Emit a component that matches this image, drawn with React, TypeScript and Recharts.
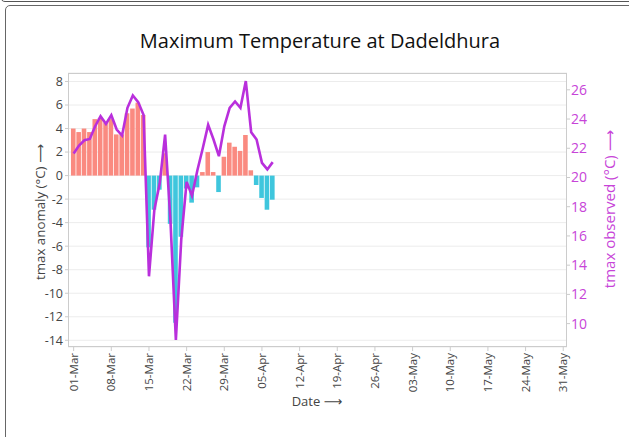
import React from 'react';
import { ComposedChart, Bar, Line, XAxis, YAxis, CartesianGrid, Cell } from 'recharts';

// Day index 0 = 01-Mar
const anomaly = [
  4.0, 3.7, 4.0, 3.7, 4.8, 4.9, 4.5, 4.8, 3.5, 3.5,
  5.3, 5.7, 6.2, 5.15, -6.1, -2.9, -1.2, 1.9, -4.1, -12.5,
  -5.2, -1.1, -2.3, -1.0, 0.3, 2.0, 0.3, -1.4, 1.6, 2.8,
  2.45, 2.1, 3.45, 0.45, -0.8, -1.9, -2.9, -2.05,
];
const observed = [
  21.64, 22.19, 22.55, 22.64, 23.51, 24.19, 23.67, 24.26, 23.28, 22.87,
  24.77, 25.61, 25.16, 24.27, 13.24, 17.8, 19.6, 22.94, 17.0, 8.88,
  15.75, 19.7, 18.75, 20.5, 22.0, 23.6, 22.6, 21.46, 23.5, 24.77,
  25.2, 24.77, 26.6, 23.1, 22.6, 21.0, 20.55, 21.05,
];
const xTickDays = [0, 7, 14, 21, 28, 35, 42, 49, 56, 63, 70, 77, 84, 91];
const xTickLabels = [
  '01-Mar', '08-Mar', '15-Mar', '22-Mar', '29-Mar', '05-Apr', '12-Apr',
  '19-Apr', '26-Apr', '03-May', '10-May', '17-May', '24-May', '31-May',
];
const leftTicks = [-14, -12, -10, -8, -6, -4, -2, 0, 2, 4, 6, 8];
const rightTicks = [10, 12, 14, 16, 18, 20, 22, 24, 26];

const data = anomaly.map((a, i) => ({ day: i, anomaly: a, observed: observed[i] }));

const FONT = '"Open Sans", "DejaVu Sans", sans-serif';
const POS = '#fa8a80';
const NEG = '#3fc6dd';
const LINE = '#b92fdc';
const MAG = '#c744d8';

const XTick = (props: any) => {
  const { x, y, payload } = props;
  const idx = xTickDays.indexOf(payload.value);
  const label = idx >= 0 ? xTickLabels[idx] : '';
  return (
    <text
      x={x}
      y={y}
      transform={`rotate(-90, ${x}, ${y})`}
      textAnchor="end"
      dy="0.35em"
      fill="#444"
      fontSize={11.5}
      fontFamily={FONT}
    >
      {label}
    </text>
  );
};

export default function App() {
  return (
    <div style={{ position: 'absolute', left: 0, top: 0, width: 629, height: 437, overflow: 'hidden', background: '#fff' }}>
      <div style={{ position: 'absolute', left: 0, top: -30, width: 700, height: 32, border: '1px solid #555', borderRadius: 5, boxSizing: 'border-box' }} />
      <div style={{ position: 'absolute', left: 5, top: 5, width: 700, height: 500, border: '1px solid #666', borderRadius: 5, boxSizing: 'border-box' }} />
      <div style={{ position: 'absolute', left: 0, top: 0 }}>
        <ComposedChart width={629} height={437} data={data} margin={{ top: 73, right: 0, bottom: 0, left: 0 }}>
          <CartesianGrid yAxisId="left" vertical={false} stroke="#ececec" />
          <XAxis
            dataKey="day"
            type="number"
            domain={[-1.05, 91.7]}
            ticks={xTickDays}
            interval={0}
            allowDataOverflow
            height={90}
            tickSize={4}
            tickMargin={2}
            axisLine={false}
            tickLine={{ stroke: '#ccc' }}
            tick={<XTick />}
          />
          <YAxis
            yAxisId="left"
            orientation="left"
            width={68}
            domain={[-14.57, 8.72]}
            ticks={leftTicks}
            interval={0}
            allowDataOverflow
            tickSize={3}
            tickMargin={2}
            axisLine={false}
            tickLine={{ stroke: '#ccc' }}
            tick={{ fill: '#444', fontSize: 12.5, fontFamily: FONT }}
          />
          <YAxis
            yAxisId="right"
            orientation="right"
            width={62}
            domain={[8.4, 27.15]}
            ticks={rightTicks}
            interval={0}
            allowDataOverflow
            tickSize={3}
            tickMargin={1}
            axisLine={false}
            tickLine={{ stroke: '#ccc' }}
            tick={{ fill: MAG, fontSize: 14, fontFamily: FONT }}
          />
          <Bar dataKey="anomaly" yAxisId="left" barSize={4.6} isAnimationActive={false}>
            {data.map((d, i) => (
              <Cell key={i} fill={d.anomaly >= 0 ? POS : NEG} />
            ))}
          </Bar>
          <Line
            dataKey="observed"
            yAxisId="right"
            type="linear"
            stroke={LINE}
            strokeWidth={2.6}
            dot={false}
            activeDot={false}
            isAnimationActive={false}
          />
        </ComposedChart>
      </div>
      <div style={{ position: 'absolute', left: 68, top: 73, width: 499, height: 274, border: '1px solid #ccc', boxSizing: 'border-box', pointerEvents: 'none' }} />
      <svg width={629} height={437} style={{ position: 'absolute', left: 0, top: 0, pointerEvents: 'none' }}>
        <text x={320} y={40} textAnchor="middle" dominantBaseline="central" fontSize={20} fontFamily={FONT} fill="#111">
          Maximum Temperature at Dadeldhura
        </text>
        <text x={40} y={212} transform="rotate(-90, 40, 212)" textAnchor="middle" dominantBaseline="central" fontSize={13.3} fontFamily={FONT} fill="#444">
          tmax anomaly (°C) ⟶
        </text>
        <text x={609} y={209} transform="rotate(-90, 609, 209)" textAnchor="middle" dominantBaseline="central" fontSize={15} fontFamily={FONT} fill={MAG}>
          tmax observed (°C) ⟶
        </text>
        <text x={317} y={401} textAnchor="middle" dominantBaseline="central" fontSize={13} fontFamily={FONT} fill="#444">
          Date ⟶
        </text>
      </svg>
    </div>
  );
}
